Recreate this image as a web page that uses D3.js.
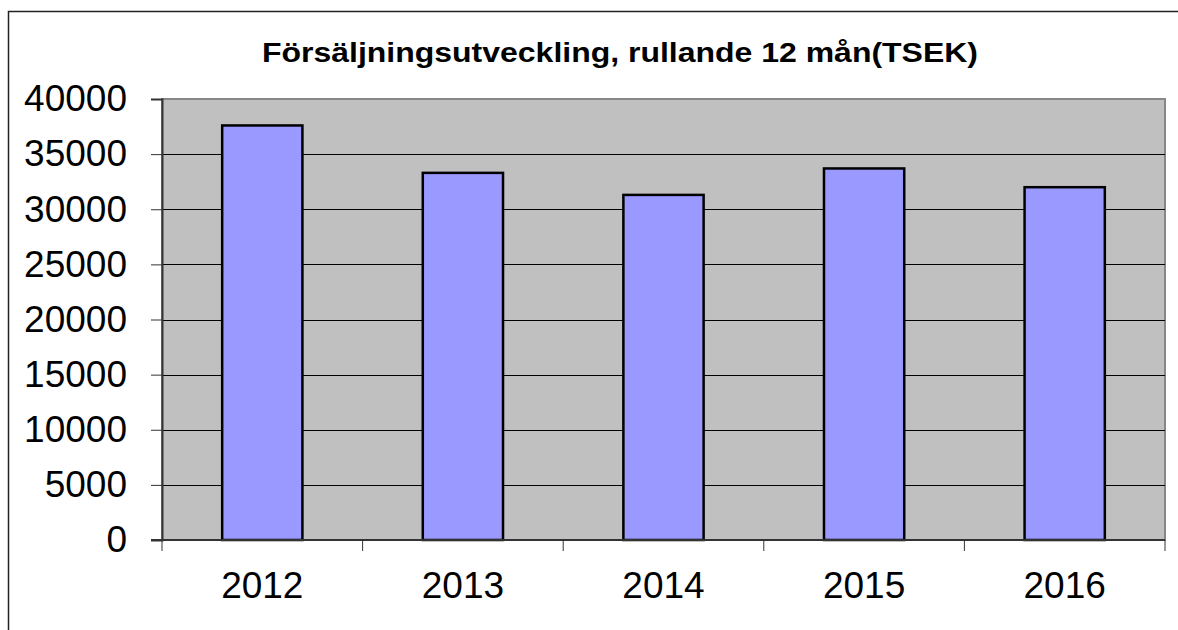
<!DOCTYPE html>
<html>
<head>
    <meta charset="UTF-8">
    <title>Försäljningsutveckling</title>
    <style>
        body { margin: 0; background: #fff; font-family: 'Liberation Sans', Arial, sans-serif; }
        .grid line { stroke: #000; stroke-width: 1; }
        .axis text { font-size: 37px; fill: #000; }
        .axis path, .axis line { stroke: #333; }
        .bar { fill: #9999ff; stroke: #000; stroke-width: 2.5; }
    </style>
</head>
<body>
<script src="https://d3js.org/d3.v7.min.js"></script>
<script>
    // data
    var years = ["2012", "2013", "2014", "2015", "2016"];
    var sales = [37600, 33300, 31300, 33700, 32000];
    var yTicks = [0, 5000, 10000, 15000, 20000, 25000, 30000, 35000, 40000];
    var title = "Försäljningsutveckling, rullande 12 mån(TSEK)";

    var width = 1178, height = 630;
    var margin = {top: 99, right: 13, bottom: 90, left: 162};
    var w = width - margin.left - margin.right,
        h = height - margin.top - margin.bottom;

    var svg = d3.select("body").append("svg")
        .attr("width", width)
        .attr("height", height);

    // outer frame (only top + left visible in the original)
    svg.append("path")
        .attr("d", "M8.5,630 V11.5 H1178")
        .attr("fill", "none")
        .attr("stroke", "#222")
        .attr("stroke-width", 1.5);

    svg.append("text")
        .attr("x", 262)
        .attr("y", 62)
        .attr("textLength", 716)
        .attr("lengthAdjust", "spacingAndGlyphs")
        .style("font-size", "27px")
        .style("font-weight", "bold")
        .text(title);

    var g = svg.append("g")
        .attr("transform", "translate(" + margin.left + "," + margin.top + ")");

    var x = d3.scaleBand().domain(years).range([0, w]).paddingInner(0.6).paddingOuter(0.3);
    var y = d3.scaleLinear().domain([0, 40000]).range([h, 0]);

    g.append("rect")
        .attr("width", w)
        .attr("height", h)
        .attr("fill", "#c0c0c0")
        .attr("stroke", "#888")
        .attr("stroke-width", 2);

    g.append("g")
        .attr("class", "grid")
        .selectAll("line")
        .data(yTicks.filter(function(d) { return d > 0 && d < 40000; }))
        .enter().append("line")
        .attr("x1", 0)
        .attr("x2", w)
        .attr("y1", function(d) { return Math.round(y(d)) + 0.5; })
        .attr("y2", function(d) { return Math.round(y(d)) + 0.5; });

    g.selectAll(".bar")
        .data(sales)
        .enter().append("rect")
        .attr("class", "bar")
        .attr("x", function(d, i) { return x(years[i]); })
        .attr("y", function(d) { return y(d); })
        .attr("width", x.bandwidth())
        .attr("height", function(d) { return h - y(d); });

    // y axis
    var yAxis = g.append("g")
        .attr("class", "axis")
        .call(d3.axisLeft(y).tickValues(yTicks).tickSize(11).tickPadding(24).tickFormat(d3.format("d")));
    yAxis.select(".domain").attr("stroke-width", 2);

    // x axis: ticks at category boundaries
    var bounds = d3.range(years.length + 1).map(function(i) { return i * w / years.length; });
    var xg = g.append("g")
        .attr("class", "axis")
        .attr("transform", "translate(0," + h + ")");
    xg.append("line")
        .attr("x1", -11).attr("x2", w)
        .attr("stroke", "#333").attr("stroke-width", 2);
    xg.selectAll(".xt")
        .data(bounds)
        .enter().append("line")
        .attr("class", "xt")
        .attr("x1", function(d) { return d; })
        .attr("x2", function(d) { return d; })
        .attr("y1", 0)
        .attr("y2", 11);
    xg.selectAll(".xl")
        .data(years)
        .enter().append("text")
        .attr("class", "xl")
        .attr("x", function(d) { return x(d) + x.bandwidth() / 2; })
        .attr("y", 58)
        .attr("text-anchor", "middle")
        .text(function(d) { return d; });
</script>
</body>
</html>
